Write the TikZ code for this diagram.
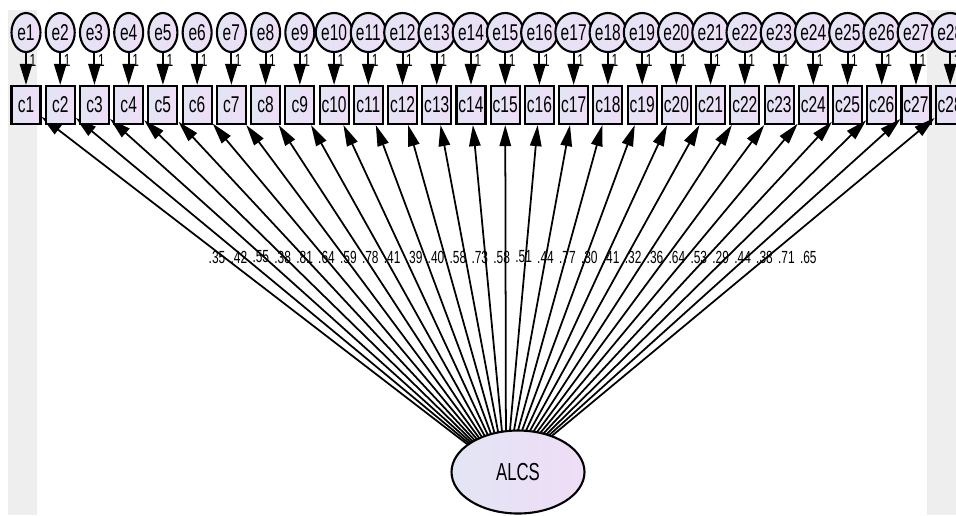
\documentclass[tikz,border=0pt]{standalone}
\usepackage{fontspec}
\setmainfont[FakeStretch=0.68]{Liberation Sans}
\usetikzlibrary{shapes.geometric, arrows.meta}

\definecolor{lavleft}{RGB}{226,229,244}
\definecolor{lavright}{RGB}{239,221,246}
\definecolor{bandgray}{RGB}{238,238,238}

\begin{document}
\begin{tikzpicture}[x=0.02cm, y=-0.02cm,
    err/.style = {draw, ellipse, line width=1.2pt, inner sep=0pt,
      minimum width=0.58cm, minimum height=0.78cm,
      left color=lavleft, right color=lavright,
      font=\fontsize{13}{15}\selectfont},
    obs/.style = {draw, rectangle, line width=1.2pt, inner sep=0pt,
      minimum width=0.58cm, minimum height=0.76cm,
      left color=lavleft, right color=lavright,
      font=\fontsize{13}{15}\selectfont},
    latent/.style = {draw, ellipse, line width=1.2pt, inner sep=0pt,
      minimum width=2.66cm, minimum height=1.66cm,
      left color=lavleft, right color=lavright,
      font=\fontsize{14}{16}\selectfont},
    fix/.style = {line width=1.1pt, -{Triangle[length=12pt, width=7pt]}},
    load/.style = {line width=1pt, -{Triangle[length=12pt, width=6.5pt]}},
    one/.style = {font=\fontsize{10}{11}\selectfont, inner sep=1pt},
    coef/.style = {font=\fontsize{10}{11}\selectfont, inner sep=0pt}]

  \useasboundingbox (0,0) rectangle (956,515);
  \clip (0,0) rectangle (956,515);

  % side bands
  \fill[bandgray] (8,10) rectangle (37,515);
  \fill[bandgray] (927,10) rectangle (956,515);

  \coordinate (hub) at (506,474);

  \foreach \lv [count=\i] in {.35,.42,.55,.38,.81,.64,.59,.78,.41,.39,.40,.58,.73,.58,
                              .51,.44,.77,.30,.41,.32,.36,.64,.53,.29,.44,.38,.71,.65} {
    \node[err] (e\i) at ({26+(\i-1)*34.23},32.5) {e\i};
    \node[obs] (c\i) at ({26+(\i-1)*34.23},105) {c\i};
    \draw[fix] (e\i) -- (c\i) node[one, pos=0.22, anchor=west, xshift=0.5pt] {1};
    \draw[load] (hub) -- (c\i);
    \node[coef] (l\i) at ({217+(\i-1)*21.9},257) {\lv};
  }

  \node[latent] (alcs) at (518,472) {ALCS};

\end{tikzpicture}
\end{document}
